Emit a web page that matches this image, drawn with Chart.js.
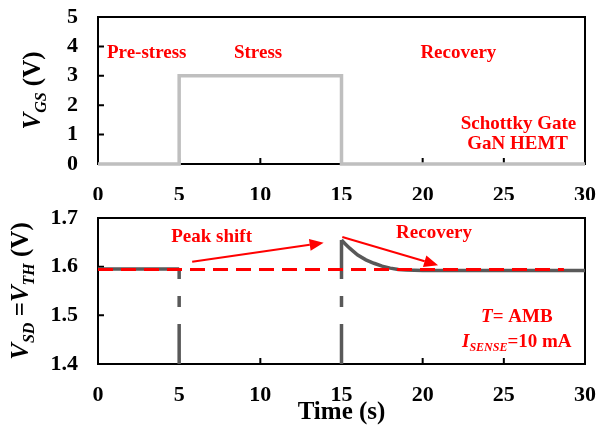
<!DOCTYPE html>
<html>
<head>
<meta charset="utf-8">
<script src="https://cdn.jsdelivr.net/npm/chart.js@4.4.0/dist/chart.umd.min.js"></script>
<style>
  html, body { margin: 0; padding: 0; background: #fff; }
  #wrap { position: relative; width: 600px; height: 428px; }
  canvas { position: absolute; left: 0; }
  #cTop { top: 0; }
  #cBot { top: 200px; }
</style>
</head>
<body>
<div id="wrap">
  <canvas id="cTop" width="600" height="200"></canvas>
  <canvas id="cBot" width="600" height="228"></canvas>
</div>
<script>
// ---- axis ticks ----
const timeTicks = [0, 5, 10, 15, 20, 25, 30];
const vgsTicks = [0, 1, 2, 3, 4, 5];
const vthTicks = [1.4, 1.5, 1.6, 1.7];

// ---- gate stress pulse: time (s) / V_GS (V) ----
const vgsTime = [0, 5, 5, 15, 15, 30];
const vgsVolt = [0, 0, 3, 3, 0, 0];

// ---- threshold voltage before stress ----
const preTime = [0, 5];
const preVth = [1.595, 1.595];

// ---- threshold voltage after stress is removed ----
const recTime = [15, 15.1, 15.25, 15.5, 15.75, 16, 16.5, 17, 17.5, 18, 18.5, 19, 20, 22, 25, 30];
const recVth = [1.655, 1.651, 1.646, 1.638, 1.631, 1.624, 1.614, 1.607, 1.601, 1.597, 1.594, 1.593, 1.592, 1.592, 1.592, 1.592];

// ---- switching edges (readout interrupted during stress) ----
const edgeTime = [5, 15];
const vthFloor = 1.4;

// ---- initial V_TH reference level ----
const refTime = [0, 28.7];
const refVth = [1.594, 1.594];

const pts = (xs, ys) => xs.map((x, i) => ({ x, y: ys[i] }));

const SERIF = '"Liberation Serif", "Times New Roman", serif';
const RED = '#ff0000';

// Draws a run of text pieces (normal / italic / subscript) on the canvas
function drawRuns(ctx, runs, x, y, size, color, align, rotate) {
  ctx.save();
  ctx.translate(x, y);
  if (rotate) ctx.rotate(-Math.PI / 2);
  let total = 0;
  const parts = runs.map(r => {
    const s = r.sub ? Math.round(size * 0.64) : size;
    const font = (r.it ? 'italic ' : '') + 'bold ' + s + 'px ' + SERIF;
    ctx.font = font;
    const w = ctx.measureText(r.t).width;
    total += w;
    return { font, w, t: r.t, dy: r.sub ? size * 0.3 : 0 };
  });
  let cx = align === 'center' ? -total / 2 : align === 'right' ? -total : 0;
  ctx.fillStyle = color;
  ctx.textBaseline = 'middle';
  ctx.textAlign = 'left';
  parts.forEach(p => {
    ctx.font = p.font;
    ctx.fillText(p.t, cx, p.dy);
    cx += p.w;
  });
  ctx.restore();
}

function drawArrow(ctx, x0, y0, x1, y1, color) {
  const ang = Math.atan2(y1 - y0, x1 - x0);
  const hl = 14, hw = 6;
  const bx = x1 - hl * Math.cos(ang), by = y1 - hl * Math.sin(ang);
  ctx.save();
  ctx.strokeStyle = color;
  ctx.fillStyle = color;
  ctx.lineWidth = 2;
  ctx.beginPath();
  ctx.moveTo(x0, y0);
  ctx.lineTo(bx, by);
  ctx.stroke();
  ctx.beginPath();
  ctx.moveTo(x1, y1);
  ctx.lineTo(bx + hw * Math.sin(ang), by - hw * Math.cos(ang));
  ctx.lineTo(bx - hw * Math.sin(ang), by + hw * Math.cos(ang));
  ctx.closePath();
  ctx.fill();
  ctx.restore();
}

// Frame around the plot area plus inward tick marks
const framePlugin = {
  id: 'frame',
  beforeDatasetsDraw(chart) {
    const { ctx, chartArea: a, scales: { x, y } } = chart;
    ctx.save();
    ctx.strokeStyle = '#000';
    ctx.lineWidth = 2;
    ctx.strokeRect(a.left, a.top, a.right - a.left, a.bottom - a.top);
    ctx.beginPath();
    x.ticks.forEach(t => {
      const px = x.getPixelForValue(t.value);
      if (px <= a.left + 1 || px >= a.right - 1) return;
      ctx.moveTo(px, a.bottom);
      ctx.lineTo(px, a.bottom - 6);
    });
    y.ticks.forEach(t => {
      const py = y.getPixelForValue(t.value);
      if (py <= a.top + 1 || py >= a.bottom - 1) return;
      ctx.moveTo(a.left, py);
      ctx.lineTo(a.left + 6, py);
    });
    ctx.stroke();
    ctx.restore();
  }
};

// Text labels, arrows and the rotated y-axis title
const notesPlugin = {
  id: 'notes',
  afterDatasetsDraw(chart, args, opts) {
    const { ctx, chartArea: a, scales: { x, y } } = chart;
    (opts.arrows || []).forEach(ar => {
      drawArrow(ctx, x.getPixelForValue(ar.from[0]), y.getPixelForValue(ar.from[1]),
        x.getPixelForValue(ar.to[0]), y.getPixelForValue(ar.to[1]), RED);
    });
    (opts.labels || []).forEach(l => {
      drawRuns(ctx, l.runs, x.getPixelForValue(l.at[0]), y.getPixelForValue(l.at[1]),
        l.size, RED, 'center', false);
    });
    if (opts.yTitle) {
      drawRuns(ctx, opts.yTitle.runs, opts.yTitle.x, (a.top + a.bottom) / 2,
        opts.yTitle.size, '#000', 'center', true);
    }
  }
};

// Tick marks themselves are drawn by framePlugin (pointing inward); the
// hidden grid tick length only sets how far the labels sit from the axis.
function makeOptions(cfg) {
  return {
    responsive: false,
    animation: false,
    layout: { padding: { left: 0, right: 15, top: cfg.area.top, bottom: 0 } },
    plugins: {
      legend: { display: false },
      tooltip: { enabled: false },
      notes: cfg.notes
    },
    scales: {
      x: {
        type: 'linear',
        min: 0, max: 30,
        afterBuildTicks: s => { s.ticks = timeTicks.map(v => ({ value: v })); },
        afterFit: s => { s.height = cfg.xHeight; },
        grid: { display: false, drawTicks: true, tickLength: cfg.xGap },
        border: { display: false },
        ticks: {
          autoSkip: false,
          padding: 0,
          color: '#000',
          font: { family: SERIF, size: 22, weight: 'bold' },
          maxRotation: 0
        },
        title: cfg.xTitle || { display: false }
      },
      y: {
        type: 'linear',
        min: cfg.yMin, max: cfg.yMax,
        afterBuildTicks: s => { s.ticks = cfg.yTicks.map(v => ({ value: v })); },
        afterFit: s => { s.width = cfg.area.left; },
        grid: { display: false, drawTicks: true, tickLength: 20 },
        border: { display: false },
        ticks: {
          autoSkip: false,
          padding: 0,
          color: '#000',
          font: { family: SERIF, size: 22, weight: 'bold' },
          callback: v => cfg.yFmt(v)
        }
      }
    }
  };
}

// ---- top panel: gate voltage ----
const topArea = { left: 98, top: 17 };
new Chart(document.getElementById('cTop'), {
  type: 'line',
  data: {
    datasets: [{
      data: pts(vgsTime, vgsVolt),
      borderColor: '#bfbfbf',
      borderWidth: 3.5,
      pointRadius: 0,
      tension: 0,
      clip: false
    }]
  },
  options: makeOptions({
    area: topArea, xHeight: 36, xGap: 18,
    yMin: 0, yMax: 5, yTicks: vgsTicks, yFmt: v => String(v),
    notes: {
      labels: [
        { at: [3.0, 3.78], size: 19, runs: [{ t: 'Pre-stress' }] },
        { at: [9.86, 3.78], size: 19, runs: [{ t: 'Stress' }] },
        { at: [22.2, 3.78], size: 19, runs: [{ t: 'Recovery' }] },
        { at: [25.9, 1.36], size: 19, runs: [{ t: 'Schottky Gate' }] },
        { at: [25.85, 0.68], size: 19, runs: [{ t: 'GaN HEMT' }] }
      ],
      yTitle: { x: 34, size: 25, runs: [{ t: 'V', it: true }, { t: 'GS', it: true, sub: true }, { t: ' (V)' }] }
    }
  }),
  plugins: [framePlugin, notesPlugin]
});

// ---- bottom panel: threshold voltage ----
const botArea = { left: 98, top: 18 };
new Chart(document.getElementById('cBot'), {
  type: 'line',
  data: {
    datasets: [
      {
        data: pts(refTime, refVth),
        borderColor: RED, borderWidth: 3, pointRadius: 0, tension: 0, clip: false,
        borderDash: [15, 8], order: 0
      },
      {
        data: pts(preTime, preVth),
        borderColor: '#595959', borderWidth: 3.5, pointRadius: 0, tension: 0, clip: false, order: 1
      },
      {
        data: pts(recTime, recVth),
        borderColor: '#595959', borderWidth: 3.5, pointRadius: 0, tension: 0, clip: false, order: 1
      },
      {
        data: [{ x: edgeTime[0], y: vthFloor }, { x: edgeTime[0], y: preVth[preVth.length - 1] }],
        borderColor: '#595959', borderWidth: 3.5, pointRadius: 0, tension: 0, clip: false,
        borderDash: [40, 17, 11, 17, 400], order: 1
      },
      {
        data: [{ x: edgeTime[1], y: vthFloor }, { x: edgeTime[1], y: recVth[0] }],
        borderColor: '#595959', borderWidth: 3.5, pointRadius: 0, tension: 0, clip: false,
        borderDash: [40, 17, 11, 17, 400], order: 1
      }
    ]
  },
  options: makeOptions({
    area: botArea, xHeight: 64, xGap: 18,
    yMin: 1.4, yMax: 1.7, yTicks: vthTicks, yFmt: v => v.toFixed(1),
    xTitle: {
      display: true, text: 'Time (s)', color: '#000',
      font: { family: SERIF, size: 25, weight: 'bold' },
      padding: { top: 0, bottom: 0 }
    },
    notes: {
      arrows: [
        { from: [5.8, 1.610], to: [13.9, 1.649] },
        { from: [15.05, 1.661], to: [20.95, 1.603] }
      ],
      labels: [
        { at: [7.0, 1.661], size: 19, runs: [{ t: 'Peak shift' }] },
        { at: [20.7, 1.669], size: 19, runs: [{ t: 'Recovery' }] },
        { at: [25.8, 1.497], size: 19, runs: [{ t: 'T', it: true }, { t: '= AMB' }] },
        { at: [25.8, 1.445], size: 19, runs: [{ t: 'I', it: true }, { t: 'SENSE', it: true, sub: true }, { t: '=10 mA' }] }
      ],
      yTitle: { x: 22, size: 25, runs: [
        { t: 'V', it: true }, { t: 'SD', it: true, sub: true }, { t: ' =' },
        { t: 'V', it: true }, { t: 'TH', it: true, sub: true }, { t: ' (V)' }
      ] }
    }
  }),
  plugins: [framePlugin, notesPlugin]
});
</script>
</body>
</html>
